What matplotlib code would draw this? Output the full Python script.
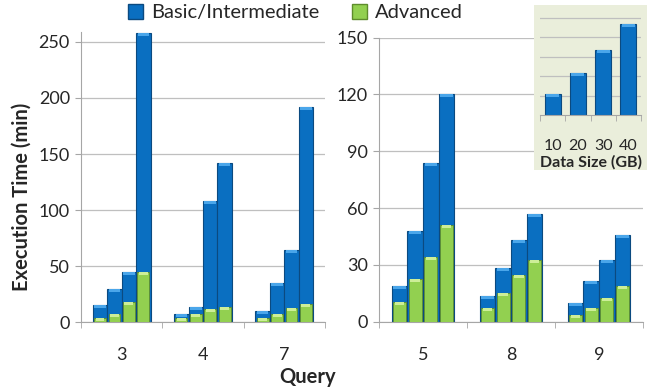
import numpy as np
import matplotlib
matplotlib.use("Agg")
import matplotlib.pyplot as plt
from matplotlib.patches import Patch, Rectangle

plt.rcParams["font.family"] = ["Lato", "DejaVu Sans"]

# data (minutes), 4 data sizes per query
left_queries = ["3", "4", "7"]
left_basic = [[15, 30, 45, 258], [7, 14, 108, 142], [10, 35, 64, 192]]
left_adv = [[3.6, 7, 18, 45], [3.6, 7, 12, 14], [4, 7.5, 13, 16]]

right_queries = ["5", "8", "9"]
right_basic = [[19, 48, 84, 120.5], [13.5, 28.5, 43, 57], [10, 21.5, 32.5, 46]]
right_adv = [[10.5, 22.5, 34, 51], [7, 15, 24.5, 32.5], [3.5, 7.5, 12.5, 19]]

sizes = ["10", "20", "30", "40"]
size_rel = [1.06, 2.17, 3.32, 4.67]

BLUE = "#0a6fc1"
BLUE_EDGE = "#0b4a80"
BLUE_CAP = "#4aa6ea"
GREEN = "#92d050"
GREEN_EDGE = "#5e8c2c"
GREEN_CAP = "#cdee98"
GRID = "#bfbfbf"
TXT = "#262626"

fig = plt.figure(figsize=(6.52, 3.91), dpi=100)


def style_axes(ax, ymax, yticks, labels):
    ax.set_xlim(-0.5, len(labels) - 0.5)
    ax.set_ylim(0, ymax)
    ax.set_yticks(yticks)
    ax.yaxis.grid(True, color=GRID, lw=0.9)
    ax.set_axisbelow(True)
    for s in ["top", "right"]:
        ax.spines[s].set_visible(False)
    for s in ["left", "bottom"]:
        ax.spines[s].set_color("#a6a6a6")
    ax.set_xticks(range(len(labels)))
    ax.set_xticklabels(labels)
    ax.set_xticks(np.arange(-0.5, len(labels), 1.0), minor=True)
    ax.tick_params(axis="x", which="major", length=0, pad=18, labelsize=13, labelcolor=TXT)
    ax.tick_params(axis="x", which="minor", length=4, color="#a6a6a6")
    ax.tick_params(axis="y", length=4, color="#a6a6a6", labelsize=13, labelcolor=TXT, pad=4)


def draw_groups(ax, basic, adv, cap_px):
    n = len(basic[0])
    w = 0.71 / n
    offs = (np.arange(n) - (n - 1) / 2) * w
    # cap height in data units
    ax_h = ax.get_position().height * fig.get_figheight() * fig.dpi
    cap = cap_px * (ax.get_ylim()[1] - ax.get_ylim()[0]) / ax_h
    for g, (b, a) in enumerate(zip(basic, adv)):
        x = g + offs
        b = np.array(b)
        a = np.array(a)
        ax.bar(x, b, width=w, color=BLUE, edgecolor=BLUE_EDGE, lw=0.8, zorder=2)
        ax.bar(x, cap, bottom=b - cap, width=w * 0.8, color=BLUE_CAP, lw=0, zorder=3)
        ax.bar(x, a, width=w * 0.82, color=GREEN, edgecolor=GREEN_EDGE, lw=0.6, zorder=4)
        ax.bar(x, np.minimum(cap, a), bottom=a - np.minimum(cap, a), width=w * 0.62,
               color=GREEN_CAP, lw=0, zorder=5)


ax1 = fig.add_axes([0.1242, 0.1757, 0.3742, 0.7432])
style_axes(ax1, 259, range(0, 251, 50), left_queries)
draw_groups(ax1, left_basic, left_adv, 3)

ax2 = fig.add_axes([0.5813, 0.1772, 0.4049, 0.7264])
style_axes(ax2, 150, range(0, 151, 30), right_queries)
draw_groups(ax2, right_basic, right_adv, 3)

# inset legend for data sizes
fig.patches.append(Rectangle((0.819, 0.5652), 0.1733, 0.422, transform=fig.transFigure,
                             facecolor="#eaeedb", edgecolor="none", zorder=5))
ax3 = fig.add_axes([0.8282, 0.7059, 0.155, 0.2499])
ax3.set_zorder(6)
ax3.patch.set_visible(False)
ax3.set_xlim(-0.5, 3.5)
ax3.set_ylim(0, 5.02)
ax3.set_yticks(range(1, 6))
ax3.set_yticklabels([])
ax3.yaxis.grid(True, color=GRID, lw=0.9)
ax3.set_axisbelow(True)
for s in ["top", "right", "left"]:
    ax3.spines[s].set_visible(False)
ax3.spines["bottom"].set_color("#a6a6a6")
ax3.tick_params(axis="y", length=0)
xs = np.arange(len(sizes))
ax3.bar(xs, size_rel, width=0.64, color=BLUE, edgecolor=BLUE_EDGE, lw=0.8, zorder=2)
cap3 = 3 * 5.02 / (0.2499 * 391)
ax3.bar(xs, cap3, bottom=np.array(size_rel) - cap3, width=0.52, color=BLUE_CAP, lw=0, zorder=3)
ax3.set_xticks(xs)
ax3.set_xticklabels(sizes)
ax3.set_xticks(np.arange(-0.5, 4, 1.0), minor=True)
ax3.tick_params(axis="x", which="major", length=0, pad=17, labelsize=11.5, labelcolor=TXT)
ax3.tick_params(axis="x", which="minor", length=4, color="#a6a6a6")
ax3.set_xlabel("Data Size (GB)", fontsize=11.5, fontweight="bold", color=TXT, labelpad=2)

fig.text(0.034, 0.496, "Execution Time (min)", rotation=90, ha="center", va="center",
         fontsize=14.5, fontweight="bold", color=TXT)
fig.text(0.472, 0.036, "Query", ha="center", va="center",
         fontsize=14.5, fontweight="bold", color=TXT)

handles = [Patch(facecolor=BLUE, edgecolor=BLUE_EDGE), Patch(facecolor=GREEN, edgecolor=GREEN_EDGE)]
fig.legend(handles, ["Basic/Intermediate", "Advanced"], loc="center", bbox_to_anchor=(0.453, 0.968),
           ncol=2, frameon=False, fontsize=14.5, handlelength=0.75, handleheight=0.75,
           handletextpad=0.4, columnspacing=1.6, labelcolor=TXT)

fig.savefig("out.png", dpi=100)
